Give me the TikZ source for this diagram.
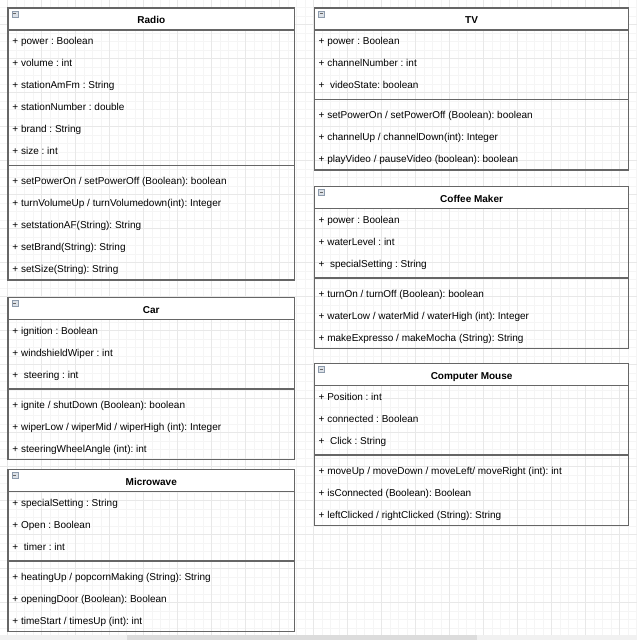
\documentclass[tikz,border=0pt]{standalone}
\usepackage{fontspec}
\setmainfont{Liberation Sans}
\frenchspacing
\definecolor{boxline}{HTML}{666666}
\definecolor{iconline}{HTML}{8C9AAB}
\definecolor{iconfill}{HTML}{DCE1E7}
\definecolor{gridlight}{HTML}{F5F5F5}
\definecolor{griddark}{HTML}{E8E8E8}
\definecolor{barback}{HTML}{F1F1F1}
\definecolor{barthumb}{HTML}{DCDCDC}

\begin{document}
\begin{tikzpicture}[x=1pt,y=1pt,
  classbox/.style={draw=boxline, line width=1.2pt, anchor=north west, inner sep=0pt},
  classhead/.style={draw=boxline, fill=white, line width=1.2pt, anchor=north west,
    inner sep=0pt, minimum height=22pt},
  classtitle/.style={anchor=base, inner sep=0pt, font=\fontsize{10}{12}\selectfont\bfseries},
  member/.style={anchor=base west, inner sep=0pt, font=\fontsize{10}{12}\selectfont},
  sepline/.style={draw=boxline, line width=1.2pt},
  collapse/.style={draw=iconline, fill=iconfill, line width=0.5pt, minimum size=6pt,
    inner sep=0pt, path picture={\draw[boxline, line width=0.7pt]
      ([xshift=1.4pt]path picture bounding box.west) --
      ([xshift=-1.4pt]path picture bounding box.east);}},
  gridminor/.style={draw=gridlight, line width=0.5pt},
  gridmajor/.style={draw=griddark, line width=0.7pt}]
\useasboundingbox (0,0) rectangle (637,-640);

% page grid
\foreach \x in {-1.2,7.3,...,637} \draw[gridminor] (\x,0) -- (\x,-635);
\foreach \y in {-7.3,-15.8,...,-635} \draw[gridminor] (0,\y) -- (637,\y);
\foreach \x in {7.3,41.3,...,637} \draw[gridmajor] (\x,0) -- (\x,-635);
\foreach \y in {-24.3,-58.3,...,-635} \draw[gridmajor] (0,\y) -- (637,\y);
% scroll bar
\fill[barback] (0,-635) rectangle (637,-640);
\fill[barthumb] (127,-635) rectangle (477,-640);

% Radio
\node[classbox, minimum width=286.7pt, minimum height=272pt] (radio) at (7.3,-7.3) {};
\node[classhead, minimum width=286.7pt] (radio-head) at (radio.north west) {};
\node[collapse] (radio-icon) at ([shift={(7.5,-6.5)}]radio.north west) {};
\node[classtitle] (radio-title) at ([yshift=-16.3]radio.north) {Radio};
\foreach \t [count=\i] in {+ power : Boolean, + volume : int, + stationAmFm : String,
    + stationNumber : double, + brand : String, + size : int}
  \node[member] (radio-a\i) at ([shift={(5,-15.5-22*\i)}]radio.north west) {\t};
\draw[sepline] ([yshift=-158]radio.north west) -- ([yshift=-158]radio.north east);
\foreach \t [count=\i] in {+ setPowerOn / setPowerOff (Boolean): boolean,
    + turnVolumeUp / turnVolumedown(int): Integer, + setstationAF(String): String,
    + setBrand(String): String, + setSize(String): String}
  \node[member] (radio-m\i) at ([shift={(5,-155.5-22*\i)}]radio.north west) {\t};

% Car
\node[classbox, minimum width=286.7pt, minimum height=162pt] (car) at (7.3,-297) {};
\node[classhead, minimum width=286.7pt] (car-head) at (car.north west) {};
\node[collapse] (car-icon) at ([shift={(7.5,-6.5)}]car.north west) {};
\node[classtitle] (car-title) at ([yshift=-16.3]car.north) {Car};
\foreach \t [count=\i] in {+ ignition : Boolean, + windshieldWiper : int, +~ steering : int}
  \node[member] (car-a\i) at ([shift={(5,-15.5-22*\i)}]car.north west) {\t};
\draw[sepline] ([yshift=-92]car.north west) -- ([yshift=-92]car.north east);
\foreach \t [count=\i] in {+ ignite / shutDown (Boolean): boolean,
    + wiperLow / wiperMid / wiperHigh (int): Integer, + steeringWheelAngle (int): int}
  \node[member] (car-m\i) at ([shift={(5,-89.5-22*\i)}]car.north west) {\t};

% Microwave
\node[classbox, minimum width=286.7pt, minimum height=162pt] (microwave) at (7.3,-469) {};
\node[classhead, minimum width=286.7pt] (microwave-head) at (microwave.north west) {};
\node[collapse] (microwave-icon) at ([shift={(7.5,-6.5)}]microwave.north west) {};
\node[classtitle] (microwave-title) at ([yshift=-16.3]microwave.north) {Microwave};
\foreach \t [count=\i] in {+ specialSetting : String, + Open : Boolean, +~ timer : int}
  \node[member] (microwave-a\i) at ([shift={(5,-15.5-22*\i)}]microwave.north west) {\t};
\draw[sepline] ([yshift=-92]microwave.north west) -- ([yshift=-92]microwave.north east);
\foreach \t [count=\i] in {+ heatingUp / popcornMaking (String): String,
    + openingDoor (Boolean): Boolean, + timeStart / timesUp (int): int}
  \node[member] (microwave-m\i) at ([shift={(5,-89.5-22*\i)}]microwave.north west) {\t};

% TV
\node[classbox, minimum width=314pt, minimum height=162pt] (tv) at (314,-7.3) {};
\node[classhead, minimum width=314pt] (tv-head) at (tv.north west) {};
\node[collapse] (tv-icon) at ([shift={(7.5,-6.5)}]tv.north west) {};
\node[classtitle] (tv-title) at ([yshift=-16.3]tv.north) {TV};
\foreach \t [count=\i] in {+ power : Boolean, + channelNumber : int, +~ videoState: boolean}
  \node[member] (tv-a\i) at ([shift={(4.5,-15.5-22*\i)}]tv.north west) {\t};
\draw[sepline] ([yshift=-92]tv.north west) -- ([yshift=-92]tv.north east);
\foreach \t [count=\i] in {+ setPowerOn / setPowerOff (Boolean): boolean,
    + channelUp / channelDown(int): Integer, + playVideo / pauseVideo (boolean): boolean}
  \node[member] (tv-m\i) at ([shift={(4.5,-89.5-22*\i)}]tv.north west) {\t};

% Coffee Maker
\node[classbox, minimum width=314pt, minimum height=162pt] (coffee) at (314,-186) {};
\node[classhead, minimum width=314pt] (coffee-head) at (coffee.north west) {};
\node[collapse] (coffee-icon) at ([shift={(7.5,-6.5)}]coffee.north west) {};
\node[classtitle] (coffee-title) at ([yshift=-16.3]coffee.north) {Coffee Maker};
\foreach \t [count=\i] in {+ power : Boolean, + waterLevel : int, +~ specialSetting : String}
  \node[member] (coffee-a\i) at ([shift={(4.5,-15.5-22*\i)}]coffee.north west) {\t};
\draw[sepline] ([yshift=-92]coffee.north west) -- ([yshift=-92]coffee.north east);
\foreach \t [count=\i] in {+ turnOn / turnOff (Boolean): boolean,
    + waterLow / waterMid / waterHigh (int): Integer, + makeExpresso / makeMocha (String): String}
  \node[member] (coffee-m\i) at ([shift={(4.5,-89.5-22*\i)}]coffee.north west) {\t};

% Computer Mouse
\node[classbox, minimum width=314pt, minimum height=162pt] (mouse) at (314,-363) {};
\node[classhead, minimum width=314pt] (mouse-head) at (mouse.north west) {};
\node[collapse] (mouse-icon) at ([shift={(7.5,-6.5)}]mouse.north west) {};
\node[classtitle] (mouse-title) at ([yshift=-16.3]mouse.north) {Computer Mouse};
\foreach \t [count=\i] in {+ Position : int, + connected : Boolean, +~ Click : String}
  \node[member] (mouse-a\i) at ([shift={(4.5,-15.5-22*\i)}]mouse.north west) {\t};
\draw[sepline] ([yshift=-92]mouse.north west) -- ([yshift=-92]mouse.north east);
\foreach \t [count=\i] in {+ moveUp / moveDown / moveLeft/ moveRight (int): int,
    + isConnected (Boolean): Boolean, + leftClicked / rightClicked (String): String}
  \node[member] (mouse-m\i) at ([shift={(4.5,-89.5-22*\i)}]mouse.north west) {\t};
\end{tikzpicture}
\end{document}
